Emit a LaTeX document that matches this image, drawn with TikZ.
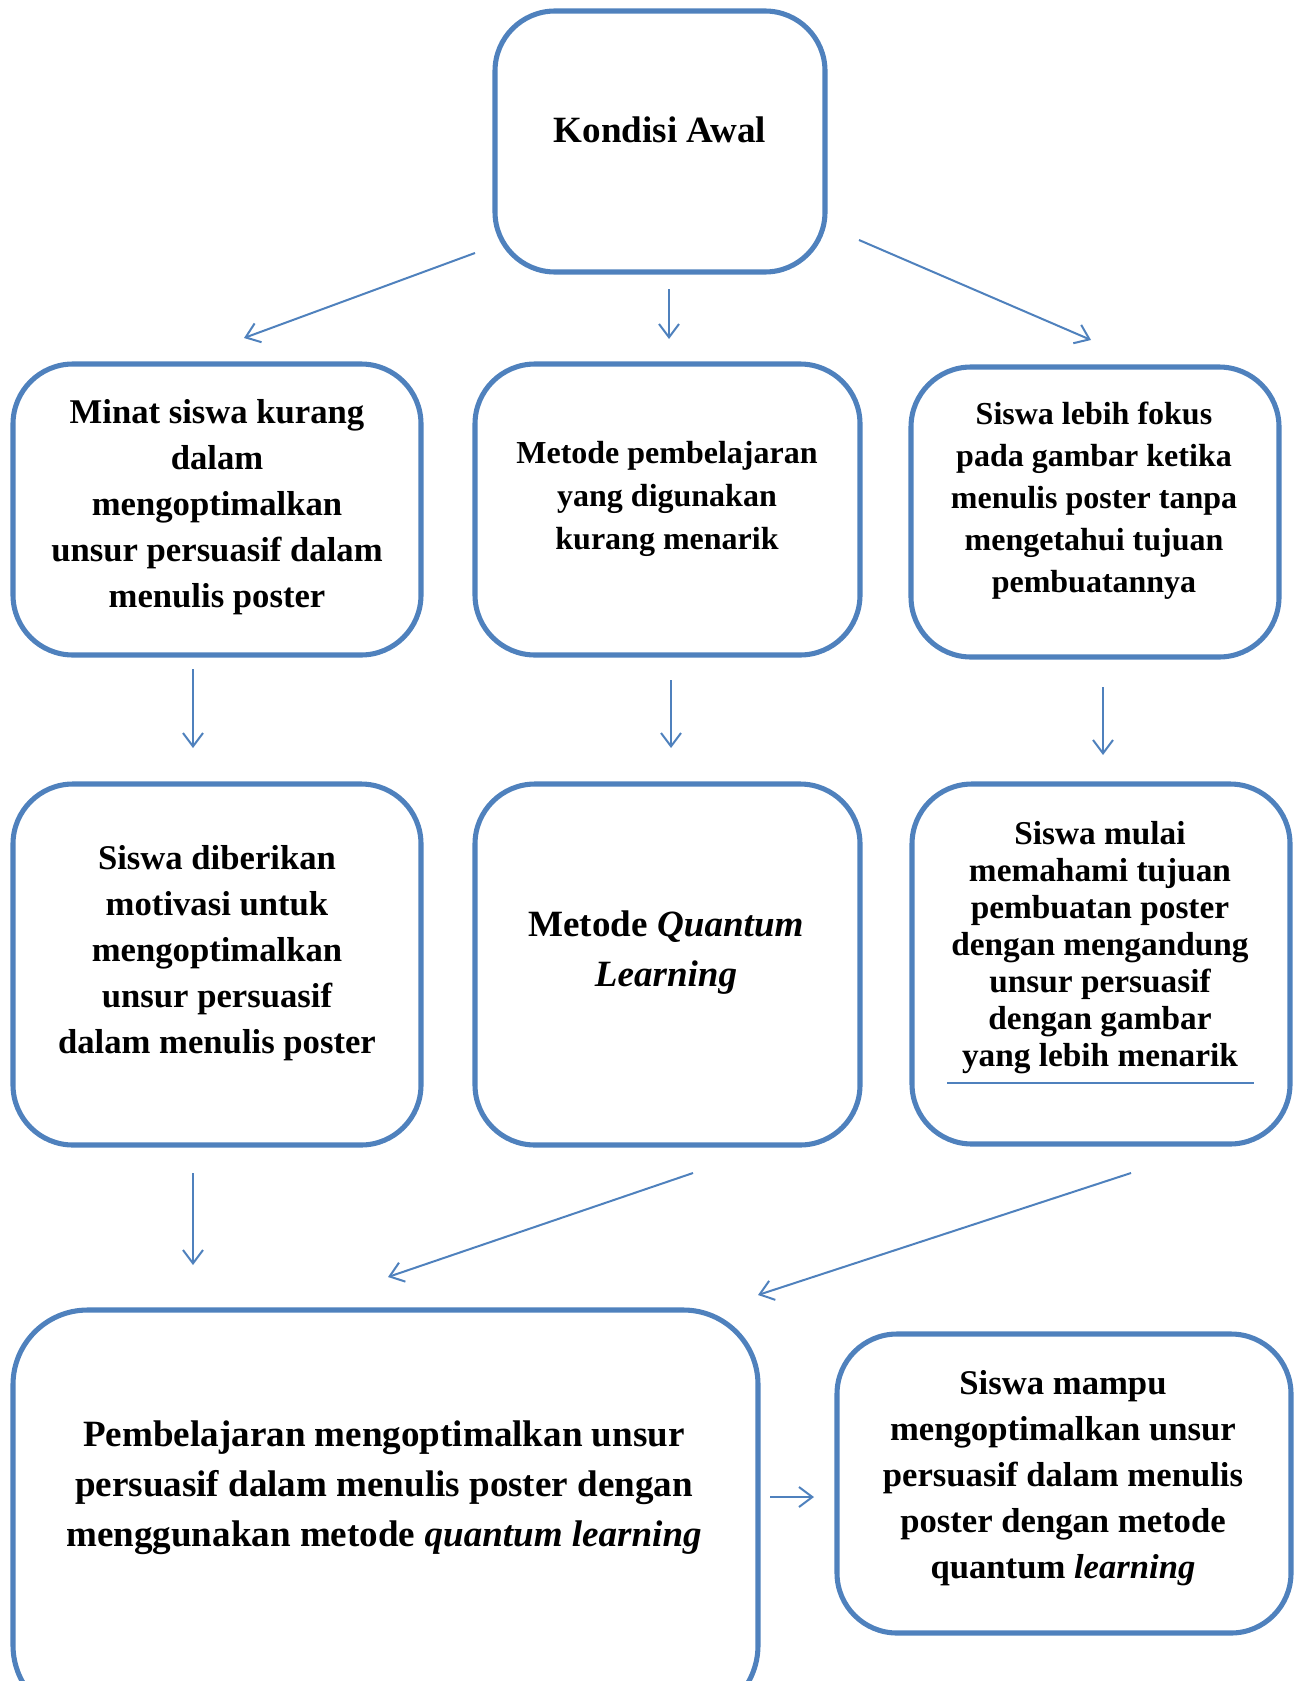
\documentclass[tikz,border=0pt]{standalone}
\usepackage{fontspec}
\setmainfont{Liberation Serif}
\usetikzlibrary{arrows.meta}
\definecolor{boxblue}{HTML}{4F81BD}
\tikzset{
  box/.style={draw=boxblue, line width=3.8pt, rounded corners=45pt, fill=none, inner sep=0pt},
  txt/.style={align=center, inner sep=0pt, font=\bfseries},
  conn/.style={draw=boxblue, line width=1.5pt, -{Straight Barb[length=10pt,width=15pt,line width=1.5pt]}},
}
\begin{document}
\begin{tikzpicture}[x=0.75pt,y=-0.75pt]
\useasboundingbox (0,0) rectangle (1297,1681);
\clip (0,0) rectangle (1297,1681);
% boxes
\node[box, minimum width=247.5pt, minimum height=195.75pt] (k) at (660,141.5) {};
\node[box, minimum width=306pt, minimum height=218.25pt] (r1l) at (217,509.5) {};
\node[box, minimum width=288.75pt, minimum height=218.25pt] (r1m) at (667.5,509.5) {};
\node[box, minimum width=276pt, minimum height=217.5pt] (r1r) at (1095,512) {};
\node[box, minimum width=306pt, minimum height=270.75pt] (r2l) at (217,964.5) {};
\node[box, minimum width=288.75pt, minimum height=270.75pt] (r2m) at (667.5,964.5) {};
\node[box, minimum width=283.5pt, minimum height=270pt] (r2r) at (1101,964) {};
\node[box, rounded corners=56pt, minimum width=558.75pt, minimum height=307.5pt] (bl) at (385.5,1515) {};
\node[box, minimum width=340.5pt, minimum height=224.25pt] (br) at (1064,1483.5) {};
% texts
\node[txt, font=\fontsize{27.8pt}{33pt}\selectfont\bfseries] (tk) at (660,129.5) {Kondisi Awal};
\node[txt, font=\fontsize{26pt}{34.5pt}\selectfont\bfseries] (tr1l) at (217,507) {Minat siswa kurang\\dalam\\mengoptimalkan\\unsur persuasif dalam\\menulis poster};
\node[txt, font=\fontsize{24pt}{32.25pt}\selectfont\bfseries] (tr1m) at (667,499) {Metode pembelajaran\\yang digunakan\\kurang menarik};
\node[txt, font=\fontsize{24pt}{31.5pt}\selectfont\bfseries] (tr1r) at (1094,500.5) {Siswa lebih fokus\\pada gambar ketika\\menulis poster tanpa\\mengetahui tujuan\\pembuatannya};
\node[txt, font=\fontsize{26pt}{34.5pt}\selectfont\bfseries] (tr2l) at (217,953) {Siswa diberikan\\motivasi untuk\\mengoptimalkan\\unsur persuasif\\dalam menulis poster};
\node[txt, font=\fontsize{27.8pt}{37.5pt}\selectfont\bfseries] (tr2m) at (666,953) {Metode \textit{Quantum}\\\textit{Learning}};
\node[txt, font=\fontsize{25pt}{27.75pt}\selectfont\bfseries] (tr2r) at (1100,948) {Siswa mulai\\memahami tujuan\\pembuatan poster\\dengan mengandung\\unsur persuasif\\dengan gambar\\yang lebih menarik};
\node[txt, font=\fontsize{27.8pt}{37.5pt}\selectfont\bfseries] (tbl) at (384,1488) {Pembelajaran mengoptimalkan unsur\\persuasif dalam menulis poster dengan\\menggunakan metode \textit{quantum learning}};
\node[txt, font=\fontsize{26pt}{34.5pt}\selectfont\bfseries] (tbr) at (1063,1478.5) {Siswa mampu\\mengoptimalkan unsur\\persuasif dalam menulis\\poster dengan metode\\quantum \textit{learning}};
% underline in right box
\coordinate (ul1) at (947,1083);
\coordinate (ul2) at (1254,1083);
\draw[draw=boxblue, line width=1.5pt] (ul1) -- (ul2);
% arrow coordinates
\coordinate (a1s) at (475,253); \coordinate (a1e) at (244,338);
\coordinate (a2s) at (669,289); \coordinate (a2e) at (669,339);
\coordinate (a3s) at (859,240); \coordinate (a3e) at (1091,340);
\coordinate (a4s) at (193,669); \coordinate (a4e) at (193,748);
\coordinate (a5s) at (671,680); \coordinate (a5e) at (671,748);
\coordinate (a6s) at (1103,687); \coordinate (a6e) at (1103,755);
\coordinate (a7s) at (193,1173); \coordinate (a7e) at (193,1265);
\coordinate (a8s) at (693,1173); \coordinate (a8e) at (388,1277);
\coordinate (a9s) at (1131,1173); \coordinate (a9e) at (758,1295);
\coordinate (a10s) at (770,1497); \coordinate (a10e) at (814,1497);
\foreach \i in {1,...,10} {\draw[conn] (a\i s) -- (a\i e);}
\end{tikzpicture}
\end{document}
